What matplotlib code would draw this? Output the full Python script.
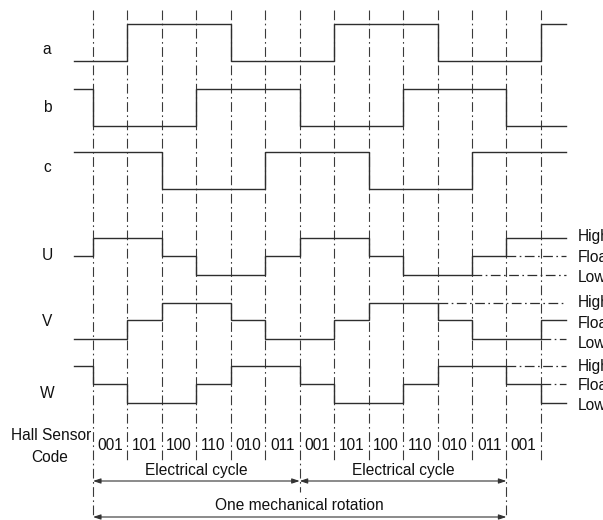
import matplotlib
matplotlib.use("Agg")
import matplotlib.pyplot as plt
import numpy as np

plt.rcParams['font.family'] = ['Liberation Sans', 'DejaVu Sans']
plt.rcParams['lines.scale_dashes'] = False

# ---------------- data ----------------
# segments: pre, sectors 0..12, post
hall_codes = ["001", "101", "100", "110", "010", "011",
              "001", "101", "100", "110", "010", "011", "001"]
sig_a = [0, 0, 1, 1, 1, 0, 0, 0, 1, 1, 1, 0, 0, 0, 1]
sig_b = [1, 0, 0, 0, 1, 1, 1, 0, 0, 0, 1, 1, 1, 0, 0]
sig_c = [1, 1, 1, 0, 0, 0, 1, 1, 1, 0, 0, 0, 1, 1, 1]
sig_U = ["F", "H", "H", "F", "L", "L", "F", "H", "H", "F", "L", "L", "F", "H", "H"]
sig_V = ["L", "L", "F", "H", "H", "F", "L", "L", "F", "H", "H", "F", "L", "L", "F"]
sig_W = ["H", "F", "L", "L", "F", "H", "H", "F", "L", "L", "F", "H", "H", "F", "L"]
digital_labels = ["a", "b", "c"]
phase_labels = ["U", "V", "W"]
level_names = ["High", "Float", "Low"]
cycle_label = "Electrical cycle"
rotation_label = "One mechanical rotation"

# ---------------- layout ----------------
W_PX, H_PX = 603, 520
X0_PX, STEP_PX = 93.0, 34.45
def kx(px):
    return (px - X0_PX) / STEP_PX

n_lines = 14
x_start, x_end = kx(74), kx(566)
bounds = [x_start] + list(range(0, 14)) + [x_end]

dig_rows = [(24, 61), (89, 126), (152, 189)]          # (high y, low y)
dig_label_y = [50, 107, 167]
ph_rows = [(238, 256, 275), (303, 320, 339), (366, 384, 403)]  # H, F, L
ph_label_y = [255, 321, 393]
right_label_y = [[236, 257, 277], [302, 323, 343], [366, 386, 406]]

line_col = '#2e2e2e'
grid_col = '#3a3a3a'
dashdot = (0, (7, 2.5, 1.2, 2.5))
FS = 11.2

fig = plt.figure(figsize=(W_PX / 100, H_PX / 100), dpi=100)
ax = fig.add_axes([0, 0, 1, 1])
ax.set_xlim(kx(0), kx(W_PX))
ax.set_ylim(H_PX, 0)
ax.axis('off')

# vertical grid lines
for k in range(n_lines):
    y_bot = 460
    if k in (0, 12):
        y_bot = 518
    elif k == 6:
        y_bot = 492
    ax.plot([k, k], [10, y_bot], color=grid_col, lw=0.8, ls=dashdot)

def step_line(states, ymap):
    xs, ys = [], []
    for i, s in enumerate(states):
        xs += [bounds[i], bounds[i + 1]]
        ys += [ymap[s], ymap[s]]
    ax.plot(xs, ys, color=line_col, lw=1.0, solid_joinstyle='miter')

# digital signals
for sig, (yh, yl), lab, ly in zip([sig_a, sig_b, sig_c], dig_rows, digital_labels, dig_label_y):
    step_line(sig, {1: yh, 0: yl})
    ax.text(kx(47), ly, lab, fontsize=FS, ha='center', va='center', color='#111')

# phase signals
for sig, (yh, yf, yl), lab, ly, rly in zip([sig_U, sig_V, sig_W], ph_rows, phase_labels,
                                           ph_label_y, right_label_y):
    ymap = {"H": yh, "F": yf, "L": yl}
    step_line(sig, ymap)
    ax.text(kx(47), ly, lab, fontsize=FS, ha='center', va='center', color='#111')
    # dash-dot continuation for the levels not held at the end
    final = sig[-1]
    for lev in "HFL":
        if lev == final:
            continue
        last = max(i for i, s in enumerate(sig) if s == lev)
        ax.plot([bounds[last + 1], x_end], [ymap[lev], ymap[lev]],
                color=line_col, lw=0.9, ls=dashdot)
    for name, y in zip(level_names, rly):
        ax.text(kx(578), y, name, fontsize=FS, ha='left', va='center', color='#111')

# hall codes
for i, code in enumerate(hall_codes):
    ax.text(i + 0.5, 445, code, fontsize=FS, ha='center', va='center', color='#111')
ax.text(kx(51), 435, "Hall Sensor", fontsize=FS, ha='center', va='center', color='#111')
ax.text(kx(50), 457, "Code", fontsize=FS, ha='center', va='center', color='#111')

# arrows
aprops = dict(arrowstyle='<|-|>,head_length=0.45,head_width=0.15', lw=0.8,
              color='#333', shrinkA=0, shrinkB=0)
for a0, a1 in [(0, 6), (6, 12)]:
    ax.annotate('', xy=(a0, 481), xytext=(a1, 481), arrowprops=aprops)
    ax.text((a0 + a1) / 2, 471, cycle_label, fontsize=FS, ha='center', va='center', color='#111')
ax.annotate('', xy=(0, 517), xytext=(12, 517), arrowprops=aprops)
ax.text(6, 506, rotation_label, fontsize=FS, ha='center', va='center', color='#111')

fig.savefig('out.png', dpi=100, facecolor='white')
